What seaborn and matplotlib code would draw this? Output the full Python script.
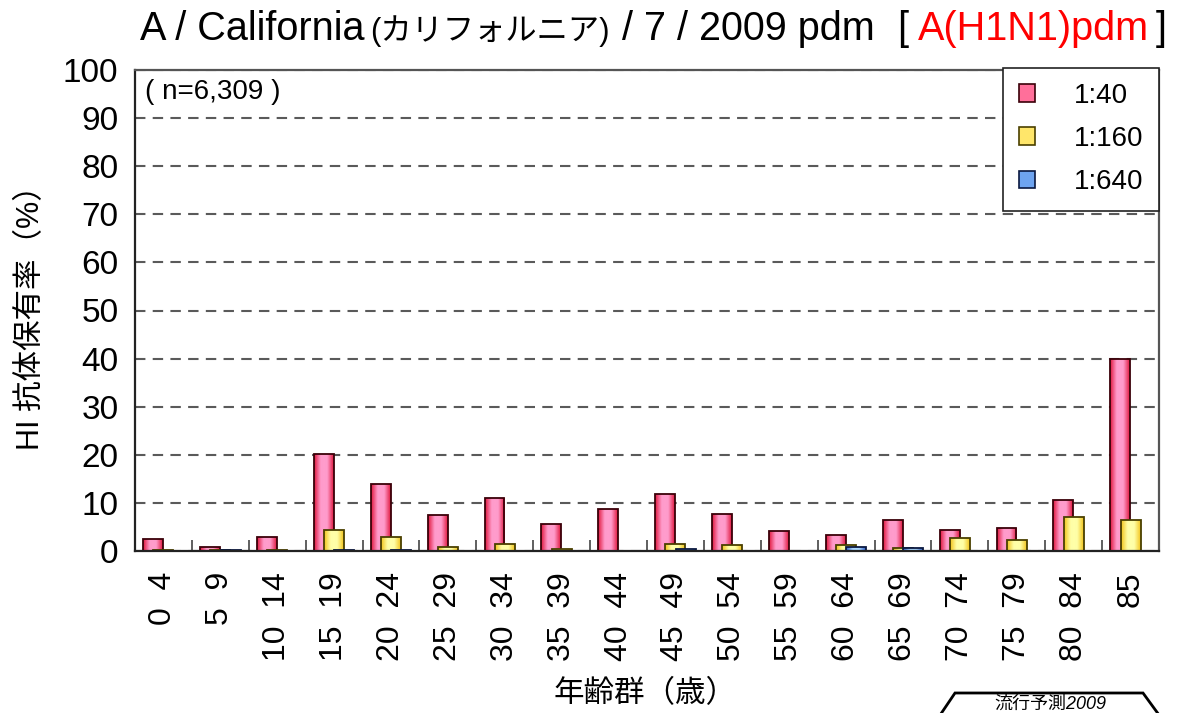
import numpy as np
import matplotlib
matplotlib.use("Agg")
import matplotlib.pyplot as plt
import seaborn as sns
from matplotlib.colors import LinearSegmentedColormap
from matplotlib.patches import Patch, Polygon

# data
age_groups = ["0  4", "5  9", "10  14", "15  19", "20  24", "25  29", "30  34",
              "35  39", "40  44", "45  49", "50  54", "55  59", "60  64",
              "65  69", "70  74", "75  79", "80  84", "85"]
titre_40 = [2.5, 0.9, 3.0, 20.2, 14.0, 7.5, 11.0, 5.6, 8.8, 11.9, 7.7, 4.2,
            3.3, 6.4, 4.3, 4.8, 10.6, 40.0]
titre_160 = [0.3, 0.2, 0.3, 4.4, 3.0, 0.9, 1.5, 0.5, 0.0, 1.4, 1.3, 0.0,
             1.3, 0.6, 2.7, 2.3, 7.0, 6.4]
titre_640 = [0.1, 0.3, 0.0, 0.3, 0.2, 0.1, 0.0, 0.0, 0.0, 0.4, 0.0, 0.0,
             0.9, 0.6, 0.0, 0.0, 0.0, 0.0]
series_labels = ["1:40", "1:160", "1:640"]

sns.set_style("white")
plt.rcParams["font.family"] = ["Liberation Sans", "Noto Sans CJK JP", "DejaVu Sans"]
for key in ["text.color", "axes.labelcolor", "xtick.labelcolor", "ytick.labelcolor"]:
    plt.rcParams[key] = "black"

W, H = 1178, 713
fig = plt.figure(figsize=(W / 100, H / 100), dpi=100)
ax = fig.add_axes([135 / W, 1 - 551 / H, (1159 - 135) / W, (551 - 70) / H])

styles = [
    # offset, dark edge shade, light centre, edge colour, legend colour
    (-0.18, "#e0183e", "#ff9ccc", "#3a0008", "#ff6f9a"),
    (0.0, "#f2c41c", "#ffffa8", "#4a4000", "#ffe66a"),
    (0.18, "#2c5cc8", "#acd8ff", "#0a1840", "#6ea4f0"),
]
pos = np.arange(len(age_groups))

z = 2.0
for vals, (off, dark, light, edge, _) in zip([titre_40, titre_160, titre_640], styles):
    before = len(ax.patches)
    sns.barplot(x=pos + off, y=vals, native_scale=True, width=0.35,
                color=light, saturation=1, errorbar=None, ax=ax)
    cmap = LinearSegmentedColormap.from_list("", [dark, light, light, dark],
                                             N=128)
    grad = np.linspace(0, 1, 64).reshape(1, -1)
    for p in ax.patches[before:]:
        p.set_facecolor("none")
        p.set_edgecolor(edge)
        p.set_linewidth(1.3)
        p.set_zorder(z + 0.01)
        x0, w, h = p.get_x(), p.get_width(), p.get_height()
        if h > 0:
            im = ax.imshow(grad, extent=(x0, x0 + w, 0, h), cmap=cmap,
                           aspect="auto", interpolation="bicubic", zorder=z)
            im.set_clip_path(p)
    z += 0.02

ax.set_xlim(-0.5, len(age_groups) - 0.5)
ax.set_ylim(0, 100)
ax.set_xticks(pos)
ax.set_xticklabels(age_groups, rotation=90, fontsize=23)
ax.set_xticks(np.arange(-0.5, len(age_groups), 1)[1:-1], minor=True)
ax.tick_params(axis="x", which="major", length=0, pad=15)
ax.tick_params(axis="x", which="minor", direction="in", length=8, width=1.2,
               color="#444444", bottom=True)
ax.set_yticks(range(0, 101, 10))
ax.tick_params(axis="y", length=0, pad=12, labelsize=24)

ax.yaxis.grid(True, linestyle=(0, (5, 3.5)), color="#5a5a5a", linewidth=1.5)
ax.xaxis.grid(False)
ax.set_axisbelow(True)

for side in ["left", "bottom"]:
    ax.spines[side].set_color("#222222")
    ax.spines[side].set_linewidth(1.6)
for side in ["top", "right"]:
    ax.spines[side].set_color("#555555")
    ax.spines[side].set_linewidth(1.6)

ax.set_ylabel("HI 抗体保有率（%）", fontsize=22, labelpad=12)
ax.set_xlabel("")
fig.text(645 / W, 1 - 694 / H, "年齢群（歳）", fontsize=22, ha="center",
         va="center")

ax.text(0.01, 0.955, "( n=6,309 )", transform=ax.transAxes, fontsize=20,
        va="center", ha="left")

handles = [Patch(facecolor=s[4], edgecolor=s[3], linewidth=1.2) for s in styles]
leg = ax.legend(handles, series_labels, loc="upper right",
                bbox_to_anchor=(1.0, 1.005), borderaxespad=0, fontsize=20,
                handlelength=0.6, handleheight=0.6, handletextpad=1.4,
                labelspacing=0.62, borderpad=0.55, fancybox=False,
                framealpha=1, edgecolor="#222222")
leg.get_frame().set_linewidth(1.2)

# title in pieces
ty = 1 - 40 / H
pieces = [
    (140, "A / California", 28.5, "black"),
    (370, "(カリフォルニア)", 22.5, "black"),
    (622, "/ 7 / 2009 pdm", 28.5, "black"),
    (897, "[", 28.5, "black"),
    (918, "A(H1N1)pdm", 28.5, "#ff0000"),
    (1156, "]", 28.5, "black"),
]
for px, s, size, col in pieces:
    fig.text(px / W, ty, s, fontsize=size, color=col, ha="left",
             va="baseline")

# stamp box at bottom right
stamp = Polygon([(930 / W, 1 - 730 / H), (955 / W, 1 - 693 / H),
                 (1143 / W, 1 - 693 / H), (1170 / W, 1 - 730 / H)],
                closed=False, fill=False, edgecolor="black", linewidth=2,
                transform=fig.transFigure)
fig.add_artist(stamp)
fig.text(1050 / W, 1 - 704 / H, "流行予測2009", fontsize=13, ha="center",
         va="center", style="italic")

fig.savefig("out.png", dpi=100)
